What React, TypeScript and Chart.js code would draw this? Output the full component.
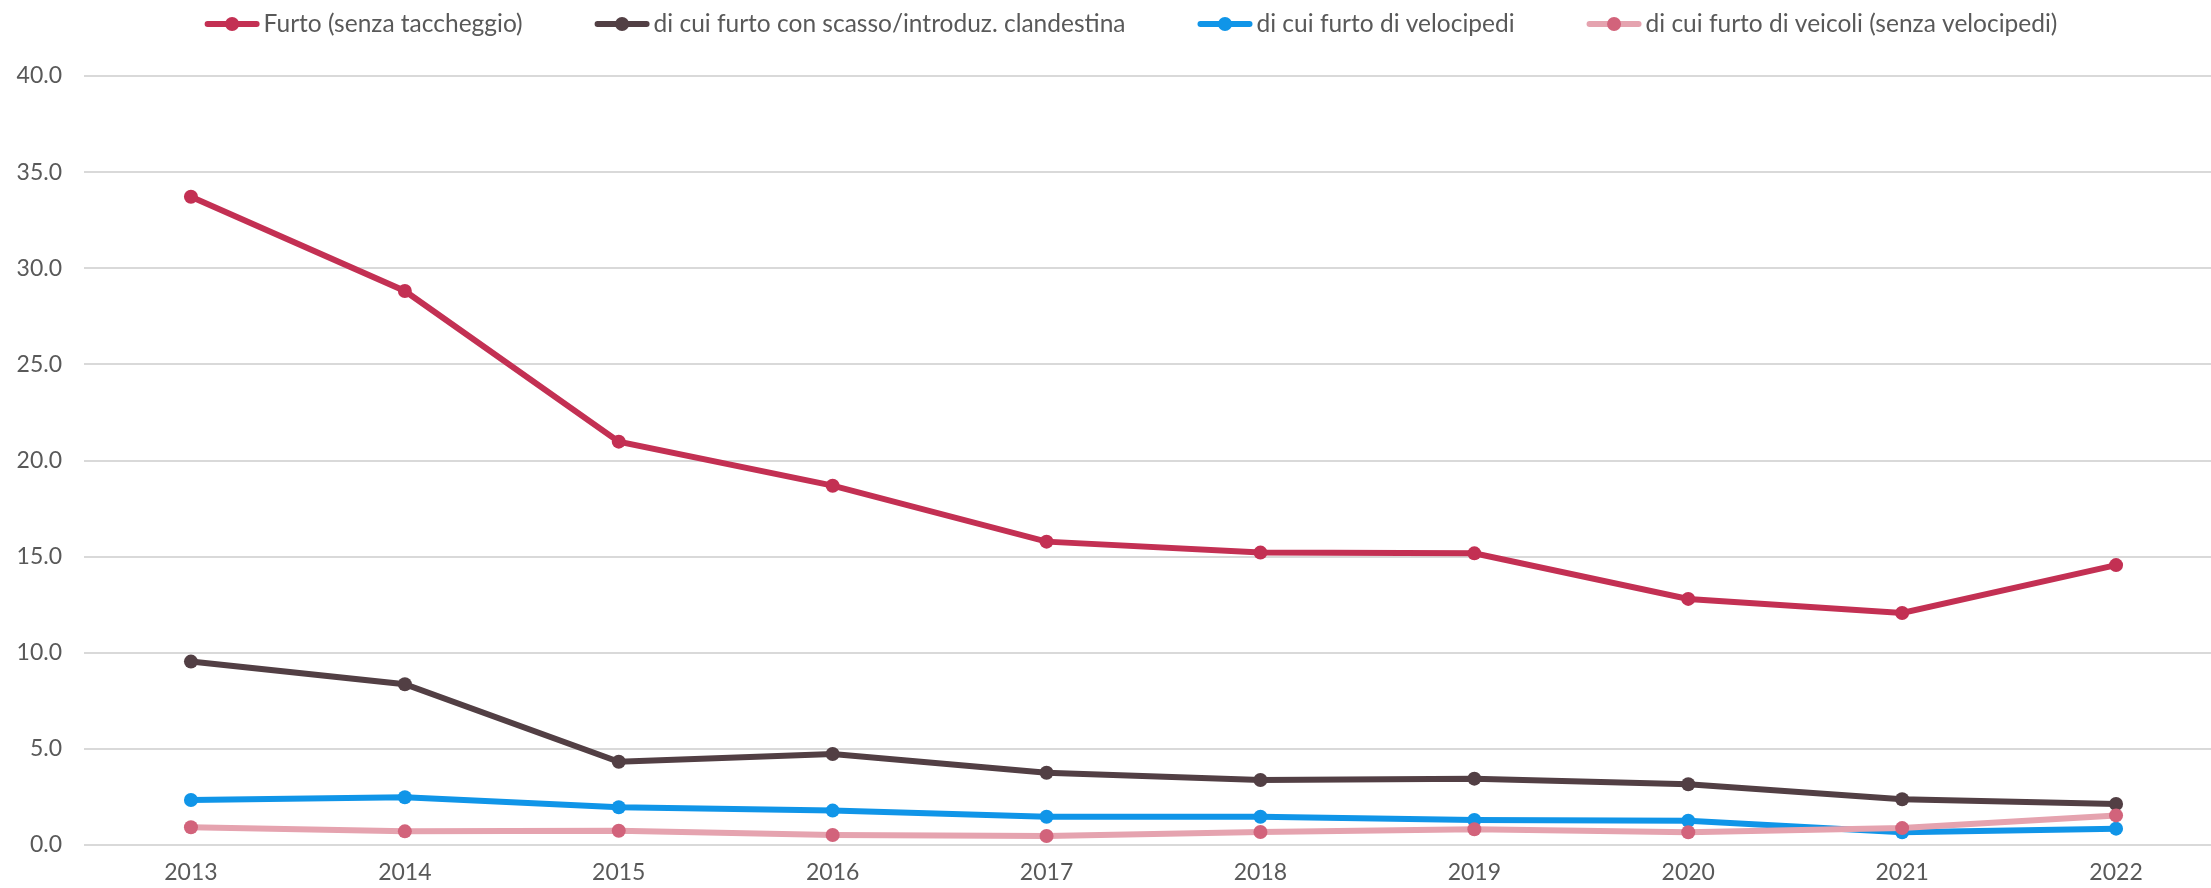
import React, { useEffect, useRef } from "react";
import { Chart, registerables } from "chart.js";

Chart.register(...registerables);

const years = ["2013", "2014", "2015", "2016", "2017", "2018", "2019", "2020", "2021", "2022"];
const furto = [33.72, 28.82, 20.98, 18.69, 15.78, 15.21, 15.17, 12.8, 12.07, 14.56];
const scasso = [9.54, 8.36, 4.33, 4.73, 3.76, 3.38, 3.45, 3.16, 2.38, 2.13];
const velocipedi = [2.34, 2.48, 1.96, 1.79, 1.47, 1.47, 1.3, 1.26, 0.66, 0.85];
const veicoli = [0.92, 0.71, 0.74, 0.52, 0.47, 0.68, 0.82, 0.66, 0.88, 1.54];
const yTicks = [0, 5, 10, 15, 20, 25, 30, 35, 40];

const labels = [
  "Furto (senza taccheggio)",
  "di cui furto con scasso/introduz. clandestina",
  "di cui furto di velocipedi",
  "di cui furto di veicoli (senza velocipedi)",
];

const FONT = "Lato, 'Noto Sans', sans-serif";
const TEXT = "#595959";

const legendPlugin = {
  id: "customLegend",
  afterDraw(chart: any) {
    const ctx = chart.ctx;
    const ds = chart.data.datasets;
    const order = [0, 1, 2, 3];
    ctx.save();
    ctx.font = `24.5px ${FONT}`;
    const markW = 55;
    const gapText = 4;
    const gapItem = 72;
    const widths = order.map((i) => markW + gapText + ctx.measureText(ds[i].label).width);
    const total = widths.reduce((a, b) => a + b, 0) + gapItem * (order.length - 1);
    let x = 1131 - total / 2;
    const y = 24;
    order.forEach((i, k) => {
      const d = ds[i];
      ctx.strokeStyle = d.borderColor;
      ctx.lineWidth = 6;
      ctx.lineCap = "round";
      ctx.beginPath();
      ctx.moveTo(x + 3, y);
      ctx.lineTo(x + markW - 3, y);
      ctx.stroke();
      ctx.fillStyle = d.pointBackgroundColor;
      ctx.beginPath();
      ctx.arc(x + markW / 2, y, 7, 0, Math.PI * 2);
      ctx.fill();
      ctx.fillStyle = TEXT;
      ctx.textBaseline = "middle";
      ctx.textAlign = "left";
      ctx.fillText(d.label, x + markW + gapText, y);
      x += widths[k] + gapItem;
    });
    ctx.restore();
  },
};

export default function App() {
  const ref = useRef<HTMLCanvasElement>(null);
  useEffect(() => {
    document.body.style.margin = "0";
    const mk = (label: string, data: number[], line: string, pt: string, order: number) => ({
      label,
      data,
      borderColor: line,
      backgroundColor: pt,
      pointBackgroundColor: pt,
      pointBorderColor: pt,
      pointRadius: 7,
      pointBorderWidth: 0,
      borderWidth: 6,
      tension: 0,
      order,
    });
    const chart = new Chart(ref.current!, {
      type: "line",
      data: {
        labels: years,
        datasets: [
          mk(labels[0], furto, "#C33053", "#C33053", 4),
          mk(labels[1], scasso, "#523F44", "#523F44", 3),
          mk(labels[2], velocipedi, "#1095E8", "#1095E8", 2),
          mk(labels[3], veicoli, "#E5A3AF", "#D2637B", 1),
        ],
      },
      options: {
        animation: false,
        responsive: false,
        maintainAspectRatio: false,
        layout: { padding: { top: 76, right: 2, left: 0, bottom: 0 } },
        plugins: { legend: { display: false }, tooltip: { enabled: false } },
        scales: {
          x: {
            offset: true,
            grid: { display: false, drawTicks: false },
            border: { display: false },
            ticks: { color: TEXT, font: { family: FONT, size: 23 }, padding: 14, maxRotation: 0 },
            afterFit: (s: any) => {
              s.height = 43;
            },
          },
          y: {
            min: 0,
            max: 40,
            afterBuildTicks: (s: any) => {
              s.ticks = yTicks.map((v) => ({ value: v }));
            },
            grid: { color: "#D9D9D9", lineWidth: 2, drawTicks: false },
            border: { display: false },
            ticks: {
              color: TEXT,
              font: { family: FONT, size: 23 },
              padding: 22,
              callback: (v: any) => Number(v).toFixed(1),
            },
            afterFit: (s: any) => {
              s.width = 84;
            },
          },
        },
      },
      plugins: [legendPlugin],
    });
    return () => chart.destroy();
  }, []);
  return (
    <div style={{ width: 2211, height: 888, overflow: "hidden", background: "#fff" }}>
      <canvas ref={ref} width={2230} height={888} style={{ display: "block" }} />
    </div>
  );
}
